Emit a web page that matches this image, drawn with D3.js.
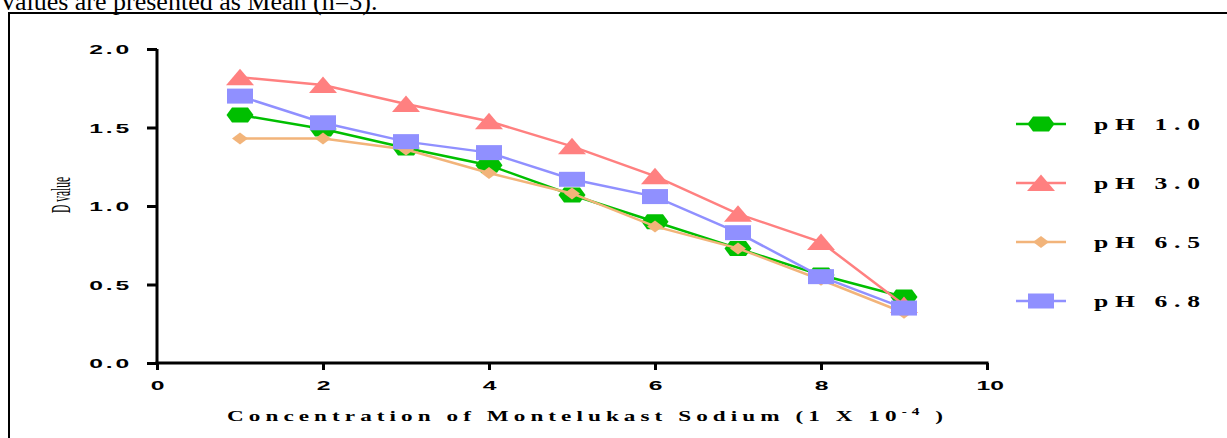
<!DOCTYPE html>
<html><head><meta charset="utf-8">
<script src="https://cdn.jsdelivr.net/npm/d3@7"></script>
<style>
html,body{margin:0;padding:0;background:#fff;overflow:hidden;}
svg{display:block;}
</style></head>
<body>
<svg id="c" width="1227" height="438"></svg>
<script>
// ---- data ----
const concentrations = [1, 2, 3, 4, 5, 6, 7, 8, 9];
const seriesNames = ["pH 1.0", "pH 3.0", "pH 6.5", "pH 6.8"];
const ph10 = [1.58, 1.49, 1.37, 1.26, 1.07, 0.90, 0.73, 0.56, 0.42];
const ph30 = [1.82, 1.77, 1.65, 1.54, 1.38, 1.19, 0.95, 0.77, 0.37];
const ph65 = [1.43, 1.43, 1.36, 1.21, 1.08, 0.87, 0.73, 0.53, 0.32];
const ph68 = [1.70, 1.53, 1.41, 1.34, 1.17, 1.06, 0.83, 0.55, 0.35];
const xTicks = [0, 2, 4, 6, 8, 10];
const yTicks = [0.0, 0.5, 1.0, 1.5, 2.0];
const caption = "Values are presented as Mean (n=3).";
const xTitle = "Concentration of Montelukast Sodium (1 X 10";
const xTitleSup = "-4";
const yTitle = "D value";

// ---- styles ----
const colors = ["#00bf00", "#ff8080", "#f2b47a", "#9090ff"];
const shapes = ["hex", "tri", "dia", "sq"];
const SX_TICK = 1.9, SX_LEG = 1.6, SX_TITLE = 1.6;

const svg = d3.select("#c");
svg.append("rect").attr("width", 1227).attr("height", 438).attr("fill", "#fff");

// spread letters so a stretched text fills a given on-screen width
function fitSpacing(sel, target, sx) {
  sel.each(function () {
    const t = d3.select(this);
    t.attr("letter-spacing", 0);
    const w0 = this.getComputedTextLength();
    const n = this.getNumberOfChars();
    const ls = Math.max(0, (target / sx - w0) / (n - 1));
    t.attr("letter-spacing", ls);
  });
}

// caption & frame
svg.append("text").attr("x", -1).attr("y", 10)
  .attr("font-family", "Liberation Serif").attr("font-size", 26)
  .text(caption);
svg.append("rect").attr("x", 9).attr("y", 13).attr("width", 1300).attr("height", 500)
  .attr("fill", "none").attr("stroke", "#000").attr("stroke-width", 2);

const x = d3.scaleLinear().domain([0, 10]).range([157, 987]);
const y = d3.scaleLinear().domain([0, 2]).range([363, 49]);

// axes
const yAxis = svg.append("g").attr("transform", `translate(${x(0)},0)`)
  .call(d3.axisLeft(y).tickValues(yTicks).tickSize(10).tickSizeOuter(0).tickFormat(d3.format(".1f")));
const xAxis = svg.append("g").attr("transform", `translate(0,${y(0)})`)
  .call(d3.axisBottom(x).tickValues(xTicks).tickSize(7).tickSizeOuter(0).tickFormat(d3.format("d")));
[yAxis, xAxis].forEach(a => {
  a.select(".domain").attr("stroke", "#000").attr("stroke-width", 3);
  a.selectAll(".tick line").attr("stroke", "#000").attr("stroke-width", 3);
  a.selectAll(".tick text").attr("fill", "#000")
    .attr("font-family", "Liberation Sans").attr("font-weight", "bold")
    .attr("font-size", 13);
});
xAxis.select(".domain").attr("d", `M${x(0) - 1.5},0H${x(10) + 1.5}`);
yAxis.select(".domain").attr("d", `M0,${y(0) + 1.5}V${y(2)}`);
yAxis.selectAll(".tick text").attr("x", null).attr("dy", null)
  .attr("text-anchor", "end").attr("dominant-baseline", "central")
  .attr("transform", `translate(-25,0) scale(${SX_TICK},1)`);
fitSpacing(yAxis.selectAll(".tick text"), 40, SX_TICK);
xAxis.selectAll(".tick text").attr("y", null).attr("dy", null)
  .attr("text-anchor", "middle").attr("dominant-baseline", "central")
  .attr("transform", `translate(0,22) scale(${SX_TICK},1)`);
fitSpacing(xAxis.selectAll(".tick text").filter(d => d === 10), 23, SX_TICK);
xAxis.selectAll(".tick text").filter(d => d === 10).attr("text-anchor", "start")
  .attr("transform", `translate(-11,22) scale(${SX_TICK},1)`);

// axis titles
const xt = svg.append("text")
  .attr("font-family", "Liberation Serif").attr("font-weight", "bold").attr("font-size", 14.5)
  .attr("transform", `translate(227,421) scale(${SX_TITLE},1)`);
xt.append("tspan").text(xTitle);
xt.append("tspan").attr("font-size", 9.5).attr("dy", -6).text(xTitleSup);
xt.append("tspan").attr("dy", 6).text(" )");
fitSpacing(xt, 716, SX_TITLE);

svg.append("text")
  .attr("font-family", "Liberation Serif").attr("font-size", 11.5)
  .attr("text-anchor", "middle")
  .attr("transform", `translate(70,195) scale(2.3,1) rotate(-90)`)
  .text(yTitle);

// markers
function marker(g, shape, color) {
  if (shape === "hex") {
    g.append("path").attr("d", "M-13.5,0L-8,-7.5L8,-7.5L13.5,0L8,7.5L-8,7.5Z").attr("fill", color);
  } else if (shape === "tri") {
    g.append("path").attr("d", "M0,-8.5L14,8L-14,8Z").attr("fill", color);
  } else if (shape === "dia") {
    g.append("path").attr("d", "M0,-6L8,0L0,6L-8,0Z").attr("fill", color);
  } else {
    g.append("rect").attr("x", -13).attr("y", -7.5).attr("width", 26).attr("height", 15).attr("fill", color);
  }
}

const allSeries = [ph10, ph30, ph65, ph68];
const line = d3.line().x((d, i) => x(concentrations[i])).y(d => y(d));
allSeries.forEach((vals, s) => {
  const g = svg.append("g");
  g.append("path").attr("d", line(vals)).attr("fill", "none")
    .attr("stroke", colors[s]).attr("stroke-width", 2.5);
  vals.forEach((v, i) => {
    const m = g.append("g").attr("transform", `translate(${x(concentrations[i])},${y(v)})`);
    marker(m, shapes[s], colors[s]);
  });
});

// legend
const legendY = d3.scalePoint().domain(seriesNames).range([124, 301]);
seriesNames.forEach((name, s) => {
  const yy = legendY(name);
  const g = svg.append("g");
  g.append("line").attr("x1", 1016).attr("x2", 1066).attr("y1", yy).attr("y2", yy)
    .attr("stroke", colors[s]).attr("stroke-width", 2.5);
  const m = g.append("g").attr("transform", `translate(1041,${yy})`);
  marker(m, shapes[s], colors[s]);
  const t = g.append("text").attr("font-family", "Liberation Serif").attr("font-weight", "bold")
    .attr("font-size", 16)
    .attr("dominant-baseline", "central")
    .attr("transform", `translate(1094,${yy + 1}) scale(${SX_LEG},1)`)
    .text(name);
  fitSpacing(t, 106, SX_LEG);
});
</script>
</body></html>
